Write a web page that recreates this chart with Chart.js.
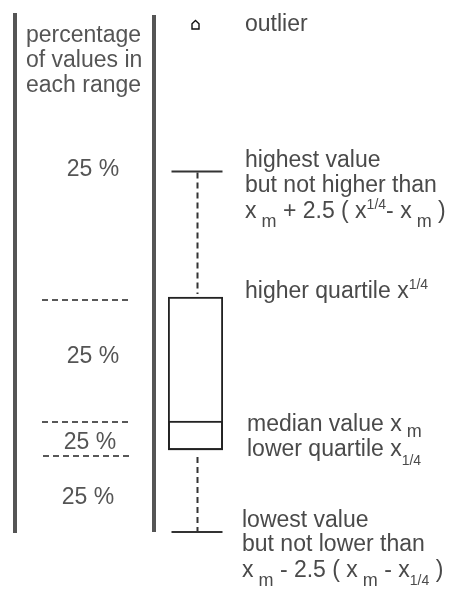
<!DOCTYPE html>
<html><head><meta charset="utf-8">
<script src="https://cdn.jsdelivr.net/npm/chart.js@4"></script>
<style>html,body{margin:0;padding:0;background:#fff;} #wrap{width:453px;height:589px;position:relative;}</style>
</head><body><div id="wrap"><canvas id="c" width="453" height="589"></canvas></div>
<script>
// ---- data ----
const categories = ['sample'];
const quartileValues = [17.8, 48.4];     // lower quartile, higher quartile
const medianValues = [23.6];
const whiskerValues = [1.4, 73.5];       // lowest, highest
const outlierValues = [102.8];
const headerLines = ['percentage', 'of values in', 'each range'];
const rangeLabels = ['25 %', '25 %', '25 %', '25 %'];
const annotationTexts = ['outlier', 'highest value', 'but not higher than', 'higher quartile x',
  'median value x', 'lower quartile x', 'lowest value', 'but not lower than'];

const FONT = '"Liberation Sans", Arial, Helvetica, sans-serif';
const F = (sz) => sz + 'px ' + FONT;
const BASE = 23;

function rich(ctx, segs, x, y) {
  let cx = x;
  segs.forEach(s => {
    ctx.font = F(s.s || BASE);
    ctx.fillText(s.t, cx, y + (s.dy || 0));
    cx += ctx.measureText(s.t).width;
  });
}

// outlier marker (small house shape)
function houseMarker() {
  const c = document.createElement('canvas');
  c.width = 11; c.height = 12;
  const g = c.getContext('2d');
  g.strokeStyle = '#111'; g.lineWidth = 1.4; g.fillStyle = '#fff';
  g.beginPath();
  g.moveTo(5.5, 1.5); g.lineTo(9, 4.8); g.lineTo(9, 10); g.lineTo(2, 10); g.lineTo(2, 4.8); g.closePath();
  g.fill(); g.stroke();
  return c;
}

const decor = {
  id: 'decor',
  afterDatasetsDraw(chart) {
    const ctx = chart.ctx;
    const y = chart.scales.y;
    const xs = chart.scales.x;
    const cx = xs.getPixelForValue(0) + 2;
    const pLow = y.getPixelForValue(whiskerValues[0]);
    const pHigh = y.getPixelForValue(whiskerValues[1]);
    const pQ1 = y.getPixelForValue(quartileValues[0]);
    const pQ3 = y.getPixelForValue(quartileValues[1]);
    const pMed = y.getPixelForValue(medianValues[0]);
    ctx.save();
    // whiskers
    ctx.strokeStyle = '#333'; ctx.lineWidth = 2; ctx.setLineDash([6, 4]);
    ctx.beginPath();
    ctx.moveTo(cx, pHigh + 1); ctx.lineTo(cx, pQ3 - 3);
    ctx.moveTo(cx, pQ1 + 7); ctx.lineTo(cx, pLow);
    ctx.stroke();
    ctx.setLineDash([]);
    ctx.beginPath();
    ctx.moveTo(cx - 26, pHigh); ctx.lineTo(cx + 25, pHigh);
    ctx.moveTo(cx - 26, pLow); ctx.lineTo(cx + 25, pLow);
    ctx.stroke();
    // separators
    ctx.fillStyle = '#555';
    ctx.fillRect(13, 13, 4, pLow + 1 - 13);
    ctx.fillRect(152, 15, 4, pLow - 15);
    // range dashes on left
    ctx.strokeStyle = '#222'; ctx.lineWidth = 1.5; ctx.setLineDash([6, 4]);
    ctx.beginPath();
    ctx.moveTo(42, pQ3 + 3); ctx.lineTo(131, pQ3 + 3);
    ctx.moveTo(42, pMed + 1); ctx.lineTo(131, pMed + 1);
    ctx.moveTo(43, pQ1 + 6); ctx.lineTo(132, pQ1 + 6);
    ctx.stroke();
    ctx.setLineDash([]);
    // left texts
    ctx.fillStyle = '#555';
    ctx.textBaseline = 'alphabetic';
    ctx.textAlign = 'left';
    ctx.font = F(BASE);
    headerLines.forEach((t, i) => ctx.fillText(t, 26, 42 + i * 25));
    ctx.textAlign = 'center';
    const rl = [[93, 176], [93, 363], [90, 449], [88, 504]];
    rangeLabels.forEach((t, i) => ctx.fillText(t, rl[i][0], rl[i][1]));
    ctx.textAlign = 'left';
    // right annotations
    ctx.fillStyle = '#4a4a4a';
    const A = annotationTexts;
    rich(ctx, [{t: A[0]}], 245, 31);
    rich(ctx, [{t: A[1]}], 245, 167);
    rich(ctx, [{t: A[2]}], 245, 192);
    rich(ctx, [{t: 'x'}, {t: ' m', s: 18, dy: 9}, {t: ' + 2.5 ( x'}, {t: '1/4', s: 14, dy: -9},
      {t: '- x'}, {t: ' m', s: 18, dy: 9}, {t: ' )'}], 245, 218);
    rich(ctx, [{t: A[3]}, {t: '1/4', s: 14, dy: -9}], 245, 298);
    rich(ctx, [{t: A[4]}, {t: ' m', s: 18, dy: 6}], 247, 431);
    rich(ctx, [{t: A[5]}, {t: '1/4', s: 14, dy: 9}], 247, 456);
    rich(ctx, [{t: A[6]}], 242, 527);
    rich(ctx, [{t: A[7]}], 242, 551);
    rich(ctx, [{t: 'x'}, {t: ' m', s: 18, dy: 9}, {t: ' - 2.5 ( x'}, {t: ' m', s: 18, dy: 9},
      {t: ' - x'}, {t: '1/4', s: 14, dy: 8}, {t: ' )'}], 242, 577);
    ctx.restore();
  }
};

new Chart(document.getElementById('c'), {
  type: 'bar',
  data: {
    labels: categories,
    datasets: [
      { type: 'bar', data: [quartileValues], grouped: false, backgroundColor: 'rgba(0,0,0,0)',
        borderColor: '#222', borderWidth: 1.5, borderSkipped: false, barPercentage: 1, categoryPercentage: 1 },
      { type: 'bar', data: [[quartileValues[0], medianValues[0]]], grouped: false, backgroundColor: 'rgba(0,0,0,0)',
        borderColor: '#222', borderWidth: 1.5, borderSkipped: false, barPercentage: 1, categoryPercentage: 1 },
      { type: 'line', data: outlierValues, showLine: false, pointStyle: houseMarker(), pointRadius: 5 }
    ]
  },
  options: {
    responsive: false,
    animation: false,
    layout: { autoPadding: false, padding: { left: 168, right: 230, top: 0, bottom: 0 } },
    plugins: { legend: { display: false }, tooltip: { enabled: false } },
    scales: {
      x: { display: false },
      y: { display: false, min: -10, max: 107.8 }
    }
  },
  plugins: [decor]
});
</script>
</body></html>
